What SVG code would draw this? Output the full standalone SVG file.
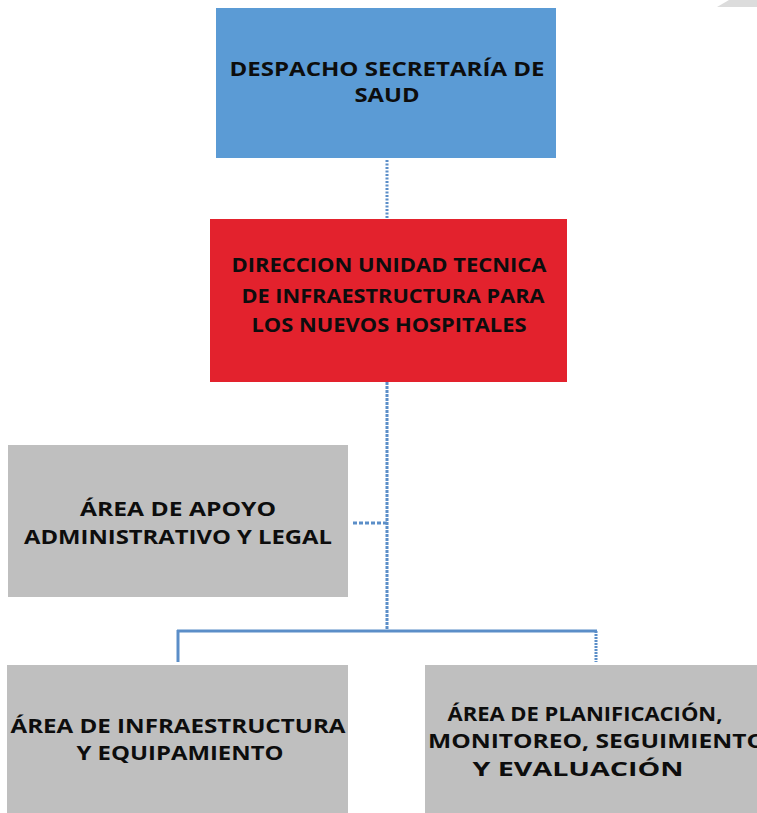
<svg xmlns="http://www.w3.org/2000/svg" width="757" height="813" viewBox="0 0 757 813">
<style>
.t{font-family:"Open Sans","Liberation Sans",sans-serif;font-weight:bold;font-size:19px;fill:#0d0d0d;text-anchor:middle}
.c{stroke:#5b8ec8;stroke-width:3;fill:none}
</style>
<rect width="757" height="813" fill="#ffffff"/>
<polygon points="717,7 729,0 757,0 757,7" fill="#dcdcdc"/>
<g id="connectors">
<line class="c" x1="387" y1="160" x2="387" y2="219" stroke-dasharray="2 1.5"/>
<line class="c" x1="387" y1="382" x2="387" y2="631" stroke-dasharray="3 1"/>
<line class="c" x1="353" y1="523" x2="387" y2="523" stroke-dasharray="4 2"/>
<line class="c" x1="177" y1="631" x2="597" y2="631"/>
<line class="c" x1="178" y1="630" x2="178" y2="662"/>
<line class="c" x1="596" y1="631" x2="596" y2="662" stroke-dasharray="2 1"/>
</g>
<g id="despacho">
<rect x="216" y="8" width="340" height="150" fill="#5b9bd5"/>
<text class="t" x="387" y="76" textLength="315" lengthAdjust="spacingAndGlyphs">DESPACHO SECRETARÍA DE</text>
<text class="t" x="387" y="102" textLength="65" lengthAdjust="spacingAndGlyphs">SAUD</text>
</g>
<g id="direccion">
<rect x="210" y="219" width="357" height="163" fill="#e3222d"/>
<text class="t" x="389" y="272" textLength="315" lengthAdjust="spacingAndGlyphs">DIRECCION UNIDAD TECNICA</text>
<text class="t" x="393" y="303" textLength="303" lengthAdjust="spacingAndGlyphs">DE INFRAESTRUCTURA PARA</text>
<text class="t" x="389" y="332" textLength="275" lengthAdjust="spacingAndGlyphs">LOS NUEVOS HOSPITALES</text>
</g>
<g id="apoyo">
<rect x="8" y="445" width="340" height="152" fill="#bfbfbf"/>
<text class="t" x="178" y="516" textLength="196" lengthAdjust="spacingAndGlyphs">ÁREA DE APOYO</text>
<text class="t" x="178" y="544" textLength="308" lengthAdjust="spacingAndGlyphs">ADMINISTRATIVO Y LEGAL</text>
</g>
<g id="infraestructura">
<rect x="7" y="665" width="341" height="148" fill="#bfbfbf"/>
<text class="t" x="178" y="733" textLength="335" lengthAdjust="spacingAndGlyphs">ÁREA DE INFRAESTRUCTURA</text>
<text class="t" x="180" y="760" textLength="207" lengthAdjust="spacingAndGlyphs">Y EQUIPAMIENTO</text>
</g>
<g id="planificacion">
<rect x="425" y="665" width="332" height="148" fill="#bfbfbf"/>
<text class="t" x="585" y="721" textLength="275" lengthAdjust="spacingAndGlyphs">ÁREA DE PLANIFICACIÓN,</text>
<text class="t" x="597" y="748" textLength="338" lengthAdjust="spacingAndGlyphs">MONITOREO, SEGUIMIENTO</text>
<text class="t" x="578" y="776" textLength="211" lengthAdjust="spacingAndGlyphs">Y EVALUACIÓN</text>
</g>
</svg>
